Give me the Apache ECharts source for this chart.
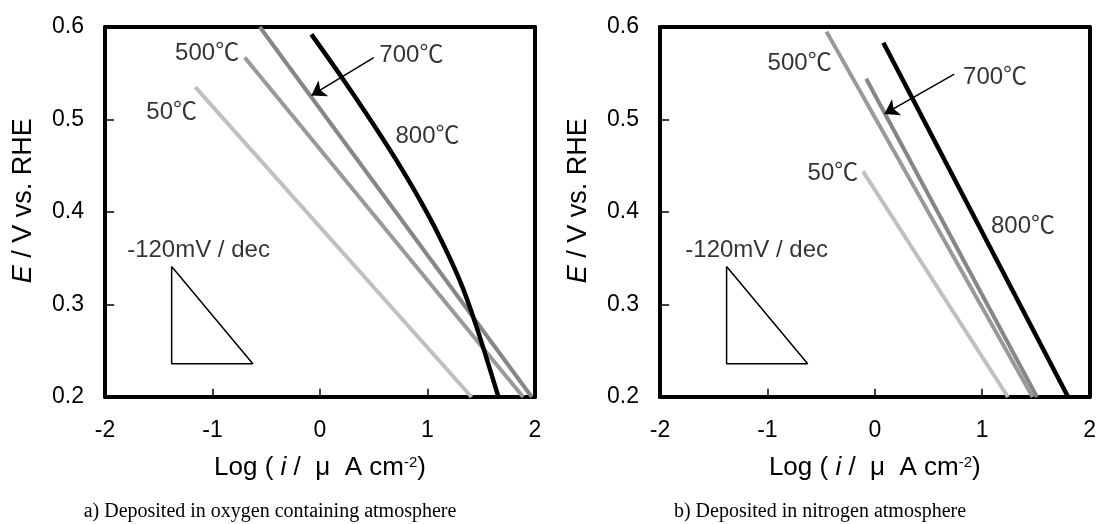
<!DOCTYPE html>
<html>
<head>
<meta charset="utf-8">
<script src="https://cdn.jsdelivr.net/npm/echarts@6/dist/echarts.min.js"></script>
<style>
  body { margin: 0; background: #fff; }
  #chart { width: 1099px; height: 524px; }
</style>
</head>
<body>
<div id="chart"></div>
<script>
// a) oxygen containing atmosphere
var oxy50 = [[-1.16, 0.535], [1.41, 0.2]];
var oxy500 = [[-0.70, 0.567], [1.89, 0.2]];
var oxy700 = [[-0.56, 0.6], [1.97, 0.2]];
var oxy800 = [[-0.08, 0.592], [0.2, 0.546], [0.45, 0.503], [0.7, 0.458], [0.9, 0.419],
              [1.1, 0.376], [1.3, 0.326], [1.45, 0.278], [1.66, 0.2]];
var oxyLabels = [['500℃', -1.05, 0.572], ['50℃', -1.38, 0.508], ['700℃', 0.85, 0.569],
                 ['800℃', 1.0, 0.482], ['-120mV / dec', -1.13, 0.359]];
var oxyArrow = [[0.50, 0.567], [-0.08, 0.526]];

// b) nitrogen atmosphere
var nit50 = [[-0.11, 0.444], [1.24, 0.2]];
var nit500 = [[-0.45, 0.595], [1.47, 0.2]];
var nit700 = [[-0.08, 0.544], [1.51, 0.2]];
var nit800 = [[0.08, 0.583], [1.80, 0.2]];
var nitLabels = [['500℃', -0.70, 0.561], ['50℃', -0.39, 0.442], ['700℃', 1.12, 0.546],
                 ['800℃', 1.38, 0.384], ['-120mV / dec', -1.10, 0.359]];
var nitArrow = [[0.74, 0.549], [0.09, 0.506]];

// slope triangle (-120 mV / dec)
var slopeTri = [[-1.38, 0.341], [-1.38, 0.236], [-0.625, 0.236], [-1.38, 0.341]];

// inner tick positions (the frame covers the end ones)
var xTicks = [-1, 0, 1];
var yTicks = [0.3, 0.4, 0.5];

var captions = ['a) Deposited in oxygen containing atmosphere', 'b) Deposited in nitrogen atmosphere'];

var sans = '"Liberation Sans", Arial, "Noto Sans CJK JP", sans-serif';
var serif = '"Liberation Serif", "Times New Roman", serif';

var c50 = '#c0c0c0', c500 = '#999999', c700 = '#868686', c800 = '#000000';
var frame = { show: true, onZero: false, lineStyle: { color: '#000', width: 4 } };

function xAx(i) {
  return {
    type: 'value', gridIndex: i, min: -2, max: 2, interval: 1, position: 'bottom',
    axisLine: frame,
    axisTick: { show: false },
    axisLabel: { color: '#000', fontSize: 23, fontFamily: sans, margin: 22 },
    splitLine: { show: false },
    name: 'Log ( {it|i} /  μ  A cm{sup|-2})',
    nameLocation: 'middle', nameGap: 58,
    nameTextStyle: {
      color: '#000', fontSize: 26, fontFamily: sans,
      rich: {
        it: { fontStyle: 'italic', fontSize: 26, fontFamily: sans, color: '#000' },
        sup: { fontSize: 15, fontFamily: sans, color: '#000', verticalAlign: 'top', padding: [0, 0, 10, 0] }
      }
    }
  };
}
function yAx(i) {
  return {
    type: 'value', gridIndex: i, min: 0.2, max: 0.6, interval: 0.1, position: 'left',
    axisLine: frame,
    axisTick: { show: false },
    axisLabel: { color: '#000', fontSize: 23, fontFamily: sans, margin: 21,
                 formatter: function (v) { return v.toFixed(1); } },
    splitLine: { show: false },
    name: '   {it|E} / V vs. RHE',
    nameLocation: 'middle', nameGap: 68, nameRotate: 90,
    nameTextStyle: {
      color: '#000', fontSize: 27, fontFamily: sans,
      rich: { it: { fontStyle: 'italic', fontSize: 27, fontFamily: sans, color: '#000' } }
    }
  };
}
// plain frame sides (top / right)
function edgeAx(i, pos, isX) {
  return {
    type: 'value', gridIndex: i, position: pos,
    min: isX ? -2 : 0.2, max: isX ? 2 : 0.6,
    axisLine: frame, axisTick: { show: false }, axisLabel: { show: false }, splitLine: { show: false }
  };
}

function line(i, data, color, width, smooth) {
  return {
    type: 'line', xAxisIndex: i, yAxisIndex: i, data: data, smooth: smooth || false,
    symbol: 'none', lineStyle: { color: color, width: width }, silent: true, z: 3
  };
}
function labels(i, arr) {
  return {
    type: 'scatter', xAxisIndex: i, yAxisIndex: i, symbolSize: 0, silent: true, z: 5,
    data: arr.map(function (d) { return { name: d[0], value: [d[1], d[2]] }; }),
    label: { show: true, position: 'inside', formatter: '{b}', color: '#000',
             fontSize: 24, fontFamily: sans }
  };
}
function arrow(i, pts) {
  return {
    type: 'lines', coordinateSystem: 'cartesian2d', xAxisIndex: i, yAxisIndex: i,
    symbol: ['none', 'arrow'], symbolSize: 14, silent: true, z: 6,
    lineStyle: { color: '#000', width: 1.5, opacity: 1 },
    data: [{ coords: pts }]
  };
}
// short inward tick marks from the bottom and left frame
function ticks(i) {
  var segs = [];
  xTicks.forEach(function (v) { segs.push({ coords: [[v, 0.2], [v, 0.209]] }); });
  yTicks.forEach(function (v) { segs.push({ coords: [[-2, v], [-1.915, v]] }); });
  return {
    type: 'lines', coordinateSystem: 'cartesian2d', xAxisIndex: i, yAxisIndex: i,
    symbol: 'none', silent: true, z: 7,
    lineStyle: { color: '#000', width: 1.5, opacity: 1 },
    data: segs
  };
}

var chart = echarts.init(document.getElementById('chart'));
chart.setOption({
  animation: false,
  backgroundColor: '#fff',
  grid: [
    { left: 105, top: 27, width: 430, height: 370 },
    { left: 660, top: 27, width: 431, height: 370 }
  ],
  xAxis: [xAx(0), xAx(1), edgeAx(0, 'top', true), edgeAx(1, 'top', true)],
  yAxis: [yAx(0), yAx(1), edgeAx(0, 'right', false), edgeAx(1, 'right', false)],
  graphic: [
    { type: 'text', x: 270, y: 512, style: { text: captions[0], font: '20px ' + serif, fill: '#000',
      textAlign: 'center', textVerticalAlign: 'middle' } },
    { type: 'text', x: 820, y: 512, style: { text: captions[1], font: '20px ' + serif, fill: '#000',
      textAlign: 'center', textVerticalAlign: 'middle' } }
  ],
  series: [
    ticks(0),
    line(0, slopeTri, '#000', 1.5),
    line(0, oxy50, c50, 4),
    line(0, oxy500, c500, 4),
    line(0, oxy700, c700, 4),
    line(0, oxy800, c800, 4.5, 0.3),
    labels(0, oxyLabels),
    arrow(0, oxyArrow),
    ticks(1),
    line(1, slopeTri, '#000', 1.5),
    line(1, nit50, c50, 4),
    line(1, nit500, c500, 4),
    line(1, nit700, c700, 4),
    line(1, nit800, c800, 4.5),
    labels(1, nitLabels),
    arrow(1, nitArrow)
  ]
});
</script>
</body>
</html>
